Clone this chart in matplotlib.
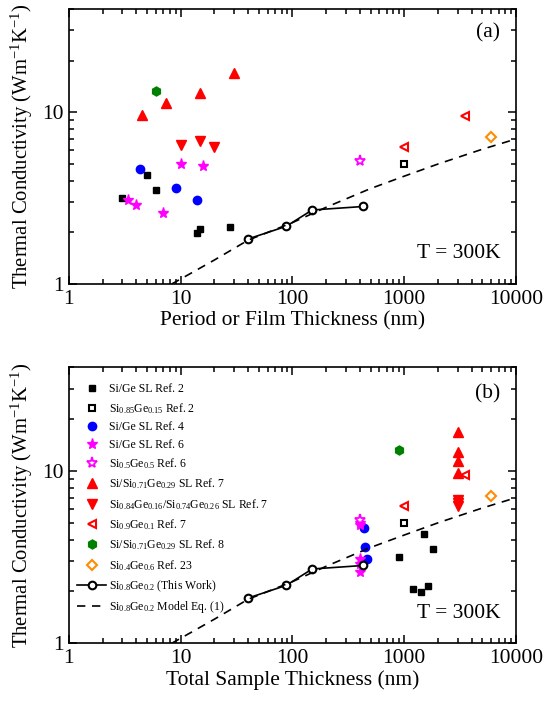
#!/usr/bin/env python3
"""
Thermal conductivity of SiGe films and superlattices vs. thickness at 300 K.
(a) against period / film thickness, (b) against total sample thickness.
"""

import matplotlib
matplotlib.use("Agg")
import matplotlib.pyplot as plt

plt.rcParams['font.family'] = ['Liberation Serif', 'DejaVu Serif']
plt.rcParams['mathtext.fontset'] = 'custom'
plt.rcParams['mathtext.rm'] = 'Liberation Serif'
plt.rcParams['mathtext.it'] = 'Liberation Serif:italic'
plt.rcParams['mathtext.bf'] = 'Liberation Serif:bold'

# Si/Ge SL, Ref. 2
sl_ref2_period = [3.0, 5.0, 6.0, 14.0, 15.0, 27.5]
sl_ref2_total = [900, 1500, 1800, 1400, 1200, 1640]
sl_ref2_k = [3.17, 4.33, 3.55, 1.98, 2.08, 2.15]

# Si0.85Ge0.15, Ref. 2
alloy85_t = [1000]
alloy85_k = [5.0]

# Si/Ge SL, Ref. 4
sl_ref4_period = [4.35, 9.0, 14.0]
sl_ref4_total = [438, 445, 463]
sl_ref4_k = [4.7, 3.63, 3.1]

# Si/Ge SL, Ref. 6
sl_ref6_period = [3.4, 4.0, 7.0, 10.0, 15.8]
sl_ref6_total = [400, 400, 400, 400, 400]
sl_ref6_k = [3.1, 2.9, 2.58, 5.02, 4.87]

# Si0.5Ge0.5, Ref. 6
alloy50_t = [400]
alloy50_k = [5.2]

# Si/Si0.71Ge0.29 SL, Ref. 7
sl_ref7a_period = [4.5, 7.4, 15.0, 30.0]
sl_ref7a_total = [3000, 3000, 3000, 3000]
sl_ref7a_k = [9.7, 11.4, 12.9, 16.9]

# Si0.84Ge0.16/Si0.74Ge0.26 SL, Ref. 7
sl_ref7b_period = [10.0, 15.0, 20.0]
sl_ref7b_total = [3000, 3000, 3000]
sl_ref7b_k = [6.5, 6.8, 6.3]

# Si0.9Ge0.1, Ref. 7
alloy90_t = [1000, 3500]
alloy90_k = [6.3, 9.5]

# Si/Si0.71Ge0.29 SL, Ref. 8
sl_ref8_period = [6.0]
sl_ref8_total = [900]
sl_ref8_k = [13.3]

# Si0.4Ge0.6, Ref. 23
alloy40_t = [6000]
alloy40_k = [7.2]

# Si0.8Ge0.2 (This Work)
this_work_t = [40, 88, 150, 430]
this_work_k = [1.83, 2.17, 2.7, 2.83]

# Si0.8Ge0.2 model, Eq. (1)
model_t = [8.3, 10, 20, 40, 100, 200, 500, 1000, 2000, 5000, 10000]
model_k = [1.0, 1.07, 1.38, 1.8, 2.28, 2.8, 3.6, 4.25, 5.0, 6.1, 7.0]


def draw_panel(ax, use_period):
    """Draws one panel; use_period picks the period axis for the superlattices."""
    x2 = sl_ref2_period if use_period else sl_ref2_total
    x4 = sl_ref4_period if use_period else sl_ref4_total
    x6 = sl_ref6_period if use_period else sl_ref6_total
    x7a = sl_ref7a_period if use_period else sl_ref7a_total
    x7b = sl_ref7b_period if use_period else sl_ref7b_total
    x8 = sl_ref8_period if use_period else sl_ref8_total

    ax.plot(x2, sl_ref2_k, 's', color='black', ms=5, ls='none', label='Si/Ge SL Ref. 2')
    ax.plot(alloy85_t, alloy85_k, 's', mfc='white', mec='black', mew=1.5, ms=4.5, ls='none',
            label=r'Si$_{0.85}$Ge$_{0.15}$ Ref. 2')
    ax.plot(x4, sl_ref4_k, 'o', color='blue', ms=6, ls='none', label='Si/Ge SL Ref. 4')
    ax.plot(x6, sl_ref6_k, '*', color='magenta', ms=8, ls='none', label='Si/Ge SL Ref. 6')
    ax.plot(alloy50_t, alloy50_k, '*', mfc='white', mec='magenta', mew=1.3, ms=8, ls='none',
            label=r'Si$_{0.5}$Ge$_{0.5}$ Ref. 6')
    ax.plot(x7a, sl_ref7a_k, '^', color='red', ms=6.5, ls='none',
            label=r'Si/Si$_{0.71}$Ge$_{0.29}$ SL Ref. 7')
    ax.plot(x7b, sl_ref7b_k, 'v', color='red', ms=6.5, ls='none',
            label=r'Si$_{0.84}$Ge$_{0.16}$/Si$_{0.74}$Ge$_{0.26}$ SL Ref. 7')
    ax.plot(alloy90_t, alloy90_k, '<', mfc='white', mec='red', mew=1.5, ms=5.5, ls='none',
            label=r'Si$_{0.9}$Ge$_{0.1}$ Ref. 7')
    ax.plot(x8, sl_ref8_k, 'h', color='green', ms=6.5, ls='none',
            label=r'Si/Si$_{0.71}$Ge$_{0.29}$ SL Ref. 8')
    ax.plot(alloy40_t, alloy40_k, 'D', mfc='white', mec='darkorange', mew=1.5, ms=5, ls='none',
            label=r'Si$_{0.4}$Ge$_{0.6}$ Ref. 23')
    ax.plot(this_work_t, this_work_k, '-o', color='black', mfc='white', mec='black',
            mew=1.5, ms=5.5, lw=1.2, label=r'Si$_{0.8}$Ge$_{0.2}$ (This Work)')
    ax.plot(model_t, model_k, '--', color='black', lw=1.2, dashes=(5, 4),
            label=r'Si$_{0.8}$Ge$_{0.2}$ Model Eq. (1)')

    ax.set_xscale('log')
    ax.set_yscale('log')
    ax.set_xlim(1, 10000)
    ax.set_ylim(1, 40)
    ax.set_xticks([1, 10, 100, 1000, 10000])
    ax.set_xticklabels(['1', '10', '100', '1000', '10000'])
    ax.set_yticks([1, 10])
    ax.set_yticklabels(['1', '10'])
    ax.tick_params(which='both', direction='in', top=True, right=True, labelsize=15.5, width=1.1)
    ax.tick_params(which='major', length=6, pad=4)
    ax.tick_params(which='minor', length=3.5)
    for s in ax.spines.values():
        s.set_linewidth(1.2)
    ax.set_ylabel(r'Thermal Conductivity (Wm$^{-1}$K$^{-1}$)', fontsize=14.9, labelpad=5)
    ax.text(0.965, 0.075, 'T = 300K', transform=ax.transAxes, ha='right', va='bottom', fontsize=15.5)


fig = plt.figure(figsize=(5.44, 7.02), dpi=100)
ax_a = fig.add_axes([0.1268, 0.5954, 0.8217, 0.3917])
ax_b = fig.add_axes([0.1268, 0.0836, 0.8217, 0.3932])

draw_panel(ax_a, True)
ax_a.set_xlabel('Period or Film Thickness (nm)', fontsize=15.5, labelpad=2)
ax_a.text(0.965, 0.915, '(a)', transform=ax_a.transAxes, ha='right', va='center', fontsize=15.5)

draw_panel(ax_b, False)
ax_b.set_xlabel('Total Sample Thickness (nm)', fontsize=15.5, labelpad=2)
ax_b.text(0.965, 0.905, '(b)', transform=ax_b.transAxes, ha='right', va='center', fontsize=15.5)
ax_b.legend(loc='upper left', bbox_to_anchor=(0.003, 0.968), frameon=False, fontsize=8.5,
            handlelength=2.4, handletextpad=0.3, labelspacing=0.47, borderaxespad=0,
            borderpad=0.6, numpoints=1)

fig.savefig('out.png', dpi=100)
